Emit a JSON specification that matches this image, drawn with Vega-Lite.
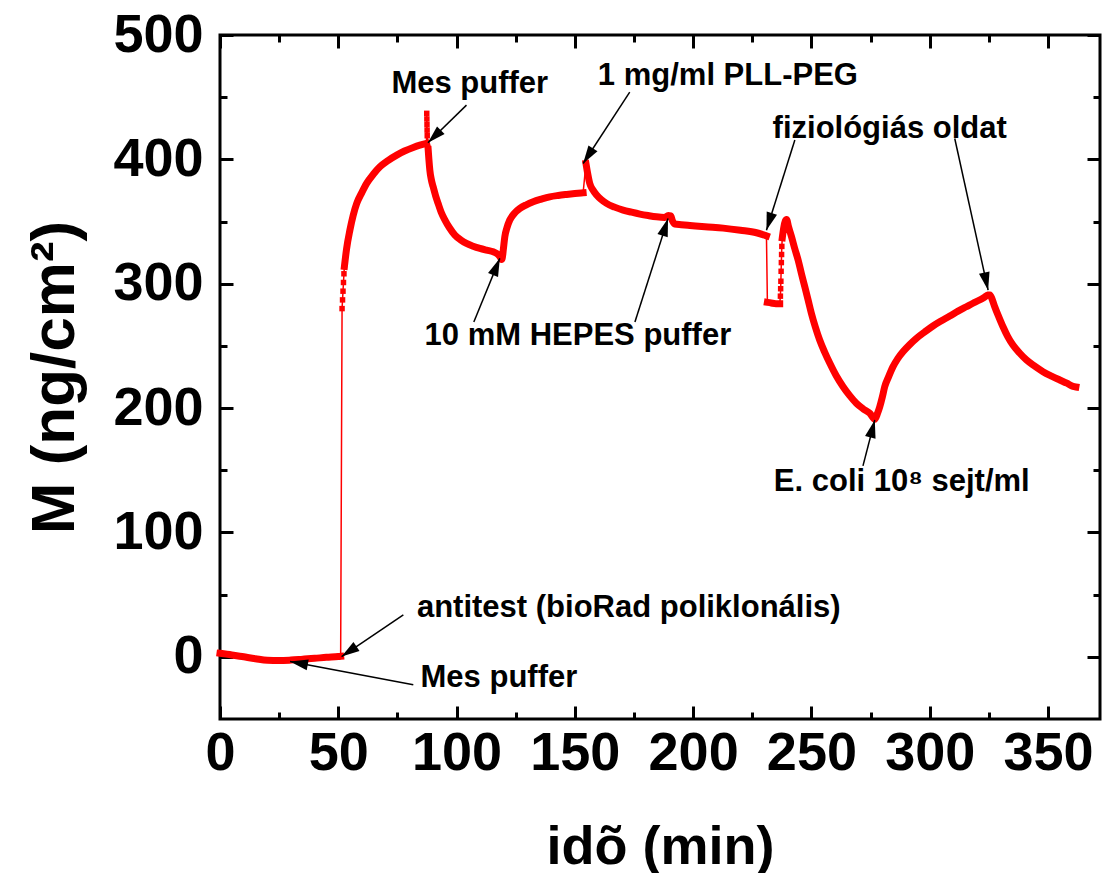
{
  "$schema": "https://vega.github.io/schema/vega-lite/v6.json",
  "width": 880,
  "height": 684,
  "autosize": "none",
  "padding": {"left": 220, "top": 35, "right": 2, "bottom": 154},
  "background": "white",
  "config": {
    "view": {"stroke": "black", "strokeWidth": 3},
    "axis": {
      "grid": false,
      "domain": false,
      "tickColor": "black",
      "tickWidth": 3,
      "labelFont": "Liberation Sans",
      "labelFontWeight": "bold",
      "labelFontSize": 54,
      "labelColor": "black",
      "labelFlush": false,
      "labelOverlap": false,
      "titleFont": "Liberation Sans",
      "titleFontWeight": "bold",
      "titleColor": "black"
    }
  },
  "datasets": {
    "curve": [
      {"t": 0, "M": 2.8, "seg": "a"}, {"t": 5, "M": 1.5, "seg": "a"}, {"t": 10, "M": 0, "seg": "a"}, {"t": 15, "M": -1.5, "seg": "a"}, {"t": 20, "M": -2.8, "seg": "a"}, {"t": 25, "M": -3, "seg": "a"}, {"t": 30, "M": -2.6, "seg": "a"}, {"t": 35, "M": -1.9, "seg": "a"}, {"t": 40, "M": -1.2, "seg": "a"}, {"t": 45, "M": -0.4, "seg": "a"}, {"t": 50, "M": 0.2, "seg": "a"}, {"t": 51, "M": 0.4, "seg": "a"},
      {"t": 51.6, "M": 280, "seg": "dot"}, {"t": 51.8, "M": 287, "seg": "dot"}, {"t": 52.0, "M": 294, "seg": "dot"}, {"t": 52.2, "M": 301, "seg": "dot"}, {"t": 52.4, "M": 308, "seg": "dot"},
      {"t": 52.6, "M": 314, "seg": "b"}, {"t": 53.5, "M": 328, "seg": "b"}, {"t": 54.9, "M": 343, "seg": "b"}, {"t": 56.3, "M": 355, "seg": "b"}, {"t": 57.8, "M": 364.6, "seg": "b"}, {"t": 60, "M": 373.5, "seg": "b"}, {"t": 62, "M": 380.7, "seg": "b"}, {"t": 64.8, "M": 388, "seg": "b"}, {"t": 67.6, "M": 394, "seg": "b"}, {"t": 71, "M": 399, "seg": "b"}, {"t": 74.7, "M": 403.4, "seg": "b"}, {"t": 78, "M": 406.7, "seg": "b"}, {"t": 81.7, "M": 409.6, "seg": "b"}, {"t": 84.5, "M": 411.4, "seg": "b"}, {"t": 87.3, "M": 412.8, "seg": "b"},
      {"t": 87.4, "M": 437, "seg": "dot"}, {"t": 87.45, "M": 432.5, "seg": "dot"}, {"t": 87.5, "M": 428, "seg": "dot"}, {"t": 87.55, "M": 423.5, "seg": "dot"}, {"t": 87.6, "M": 419, "seg": "dot"},
      {"t": 88.0, "M": 408, "seg": "c"}, {"t": 88.3, "M": 400, "seg": "c"}, {"t": 88.7, "M": 391.4, "seg": "c"}, {"t": 89.3, "M": 384, "seg": "c"}, {"t": 90.1, "M": 378, "seg": "c"}, {"t": 91.1, "M": 371, "seg": "c"}, {"t": 92.2, "M": 364.6, "seg": "c"}, {"t": 93.5, "M": 357.5, "seg": "c"}, {"t": 95.1, "M": 351.2, "seg": "c"}, {"t": 97, "M": 345, "seg": "c"}, {"t": 99.3, "M": 339.1, "seg": "c"}, {"t": 101.7, "M": 335.3, "seg": "c"}, {"t": 104.2, "M": 332.4, "seg": "c"}, {"t": 107, "M": 330.2, "seg": "c"}, {"t": 109.9, "M": 328.4, "seg": "c"}, {"t": 112.7, "M": 327, "seg": "c"}, {"t": 115.5, "M": 325.7, "seg": "c"}, {"t": 117.6, "M": 323.5, "seg": "c"}, {"t": 118.6, "M": 321, "seg": "c"}, {"t": 119.0, "M": 319.5, "seg": "c"},
      {"t": 119.3, "M": 320.5, "seg": "c"}, {"t": 119.8, "M": 328, "seg": "c"}, {"t": 120.4, "M": 337.8, "seg": "c"}, {"t": 121.3, "M": 345, "seg": "c"}, {"t": 122.5, "M": 351.2, "seg": "c"}, {"t": 124.4, "M": 356.5, "seg": "c"}, {"t": 126.8, "M": 360.6, "seg": "c"}, {"t": 129.5, "M": 363.5, "seg": "c"}, {"t": 132.4, "M": 365.9, "seg": "c"}, {"t": 135.8, "M": 368, "seg": "c"}, {"t": 139.4, "M": 369.9, "seg": "c"}, {"t": 143, "M": 371, "seg": "c"}, {"t": 146.5, "M": 371.8, "seg": "c"}, {"t": 150, "M": 372.5, "seg": "c"}, {"t": 153.5, "M": 373.1, "seg": "c"},
      {"t": 154.7, "M": 396.7, "seg": "e"}, {"t": 155.3, "M": 390, "seg": "e"}, {"t": 156.3, "M": 380.7, "seg": "e"}, {"t": 157.6, "M": 375.5, "seg": "e"}, {"t": 159.2, "M": 371.3, "seg": "e"}, {"t": 161.2, "M": 367.6, "seg": "e"}, {"t": 163.4, "M": 364.6, "seg": "e"}, {"t": 166.8, "M": 361.6, "seg": "e"}, {"t": 170.4, "M": 359.2, "seg": "e"}, {"t": 174, "M": 357.5, "seg": "e"}, {"t": 177.5, "M": 356, "seg": "e"}, {"t": 181, "M": 354.8, "seg": "e"}, {"t": 184.5, "M": 353.8, "seg": "e"}, {"t": 188, "M": 353.3, "seg": "e"}, {"t": 189.5, "M": 354.8, "seg": "e"}, {"t": 190.5, "M": 354.5, "seg": "e"}, {"t": 191.3, "M": 350.5, "seg": "e"}, {"t": 192.3, "M": 348, "seg": "e"}, {"t": 195, "M": 347.5, "seg": "e"}, {"t": 198.6, "M": 346.9, "seg": "e"}, {"t": 205, "M": 345.8, "seg": "e"}, {"t": 212.7, "M": 344.7, "seg": "e"}, {"t": 220, "M": 343, "seg": "e"}, {"t": 226.8, "M": 341, "seg": "e"}, {"t": 231, "M": 338.5, "seg": "e"},
      {"t": 231.4, "M": 285, "seg": "g"}, {"t": 233, "M": 284.5, "seg": "g"}, {"t": 235, "M": 284, "seg": "g"}, {"t": 236.6, "M": 284, "seg": "g"},
      {"t": 236.9, "M": 290, "seg": "dot"}, {"t": 237.0, "M": 296, "seg": "dot"}, {"t": 237.1, "M": 302, "seg": "dot"}, {"t": 237.2, "M": 310, "seg": "dot"}, {"t": 237.3, "M": 317, "seg": "dot"}, {"t": 237.4, "M": 323.5, "seg": "dot"}, {"t": 237.5, "M": 330, "seg": "dot"},
      {"t": 237.7, "M": 337, "seg": "h"}, {"t": 238.3, "M": 345, "seg": "h"}, {"t": 239.0, "M": 350.5, "seg": "h"}, {"t": 239.5, "M": 351.7, "seg": "h"}, {"t": 240.3, "M": 346, "seg": "h"}, {"t": 241.6, "M": 337.8, "seg": "h"}, {"t": 243, "M": 328, "seg": "h"}, {"t": 244.4, "M": 319, "seg": "h"}, {"t": 245.8, "M": 308, "seg": "h"}, {"t": 247.2, "M": 297.6, "seg": "h"}, {"t": 248.6, "M": 287, "seg": "h"}, {"t": 250, "M": 276.2, "seg": "h"}, {"t": 251.7, "M": 265, "seg": "h"}, {"t": 253.5, "M": 254.7, "seg": "h"}, {"t": 255.6, "M": 245, "seg": "h"}, {"t": 257.8, "M": 236, "seg": "h"}, {"t": 260.5, "M": 226, "seg": "h"}, {"t": 263.4, "M": 217.2, "seg": "h"}, {"t": 266.2, "M": 210, "seg": "h"}, {"t": 269, "M": 203.9, "seg": "h"}, {"t": 271.8, "M": 199.5, "seg": "h"}, {"t": 274.7, "M": 195.8, "seg": "h"}, {"t": 276.8, "M": 191, "seg": "h"},
      {"t": 278.0, "M": 196, "seg": "h"}, {"t": 278.9, "M": 201.1, "seg": "h"}, {"t": 280, "M": 209, "seg": "h"}, {"t": 281, "M": 217.2, "seg": "h"}, {"t": 282.7, "M": 225.5, "seg": "h"}, {"t": 284.5, "M": 233.3, "seg": "h"}, {"t": 286.5, "M": 239.8, "seg": "h"}, {"t": 288.7, "M": 245.3, "seg": "h"}, {"t": 291.5, "M": 251, "seg": "h"}, {"t": 294.4, "M": 256.1, "seg": "h"}, {"t": 297.9, "M": 261.2, "seg": "h"}, {"t": 301.4, "M": 266, "seg": "h"}, {"t": 305, "M": 270.2, "seg": "h"}, {"t": 308.5, "M": 274, "seg": "h"}, {"t": 312, "M": 278, "seg": "h"}, {"t": 315.5, "M": 281.5, "seg": "h"}, {"t": 318.3, "M": 284.3, "seg": "h"}, {"t": 321.1, "M": 286.9, "seg": "h"}, {"t": 323, "M": 289, "seg": "h"}, {"t": 324.6, "M": 290.9, "seg": "h"}, {"t": 325.5, "M": 291, "seg": "h"},
      {"t": 326.5, "M": 287, "seg": "h"}, {"t": 327.5, "M": 281.5, "seg": "h"}, {"t": 329.3, "M": 273, "seg": "h"}, {"t": 331, "M": 265.4, "seg": "h"}, {"t": 333, "M": 257.5, "seg": "h"}, {"t": 335.2, "M": 250.7, "seg": "h"}, {"t": 338, "M": 244.3, "seg": "h"}, {"t": 340.9, "M": 238.7, "seg": "h"}, {"t": 344.4, "M": 233.7, "seg": "h"}, {"t": 347.9, "M": 229.3, "seg": "h"}, {"t": 351.5, "M": 225.7, "seg": "h"}, {"t": 355, "M": 222.6, "seg": "h"}, {"t": 358, "M": 220, "seg": "h"}, {"t": 360.6, "M": 217.5, "seg": "h"}, {"t": 361.8, "M": 217, "seg": "h"}
    ],
    "arrows": [
      {"t1": 104.2, "M1": 443.6, "t2": 87.9, "M2": 413.3},
      {"t1": 173.2, "M1": 454, "t2": 153.5, "M2": 396.7},
      {"t1": 243, "M1": 415.5, "t2": 231, "M2": 343},
      {"t1": 310.6, "M1": 416.8, "t2": 324.7, "M2": 294.8},
      {"t1": 107.3, "M1": 269.2, "t2": 118.3, "M2": 320.4},
      {"t1": 175.4, "M1": 269.2, "t2": 189.4, "M2": 352.5},
      {"t1": 271.8, "M1": 153.5, "t2": 276.8, "M2": 190.4},
      {"t1": 77.5, "M1": 33.8, "t2": 51.4, "M2": 0.2},
      {"t1": 81.7, "M1": -22.5, "t2": 29.6, "M2": -3.8}
    ],
    "labels": [
      {"t": 105.6, "M": 453.2, "text": "Mes puffer"},
      {"t": 214.7, "M": 459.6, "text": "1 mg/ml PLL-PEG"},
      {"t": 283.1, "M": 417, "text": "fiziológiás oldat"},
      {"t": 151.3, "M": 250.7, "text": "10 mM HEPES puffer"},
      {"t": 288.2, "M": 133, "text": "E. coli 10⁸ sejt/ml"},
      {"t": 172.8, "M": 32.1, "text": "antitest (bioRad poliklonális)"},
      {"t": 117.9, "M": -24, "text": "Mes puffer"}
    ]
  },
  "layer": [
    {
      "data": {"name": "curve"},
      "mark": {"type": "line", "color": "#ff0000", "strokeWidth": 1.5},
      "encoding": {
        "x": {"field": "t", "type": "quantitative", "scale": {"domain": [0, 372], "nice": false, "zero": false},
          "axis": {"orient": "bottom", "values": [0, 50, 100, 150, 200, 250, 300, 350], "tickSize": -13, "labelPadding": 20, "title": "idõ (min)", "titleFontSize": 54, "titlePadding": 40}},
        "y": {"field": "M", "type": "quantitative", "scale": {"domain": [-50, 500], "nice": false, "zero": false},
          "axis": {"orient": "left", "values": [0, 100, 200, 300, 400, 500], "tickSize": -13, "labelPadding": 30, "title": "M (ng/cm²)", "titleFontSize": 62, "titlePadding": 26}}
      }
    },
    {
      "data": {"name": "curve"},
      "transform": [{"filter": "datum.seg !== 'dot'"}],
      "mark": {"type": "line", "color": "#ff0000", "strokeWidth": 7, "interpolate": "monotone", "strokeCap": "square", "strokeJoin": "round"},
      "encoding": {
        "x": {"field": "t", "type": "quantitative", "scale": {"domain": [0, 372], "nice": false, "zero": false},
          "axis": {"orient": "bottom", "values": [25, 75, 125, 175, 225, 275, 325], "tickSize": -7, "labels": false, "title": null}},
        "y": {"field": "M", "type": "quantitative", "scale": {"domain": [-50, 500], "nice": false, "zero": false},
          "axis": {"orient": "left", "values": [50, 150, 250, 350, 450], "tickSize": -7, "labels": false, "title": null}},
        "detail": {"field": "seg"}
      }
    },
    {
      "data": {"name": "curve"},
      "transform": [{"filter": "datum.seg === 'dot'"}],
      "mark": {"type": "point", "shape": "square", "filled": true, "color": "#ff0000", "size": 30, "opacity": 1},
      "encoding": {
        "x": {"field": "t", "type": "quantitative", "scale": {"domain": [0, 372], "nice": false, "zero": false},
          "axis": {"orient": "top", "values": [0, 50, 100, 150, 200, 250, 300, 350], "tickSize": -13, "labels": false, "title": null}},
        "y": {"field": "M", "type": "quantitative", "scale": {"domain": [-50, 500], "nice": false, "zero": false},
          "axis": {"orient": "right", "values": [0, 100, 200, 300, 400, 500], "tickSize": -13, "labels": false, "title": null}}
      }
    },
    {
      "data": {"name": "arrows"},
      "mark": {"type": "rule", "color": "black", "strokeWidth": 1.5},
      "encoding": {
        "x": {"field": "t1", "type": "quantitative", "scale": {"domain": [0, 372], "nice": false, "zero": false},
          "axis": {"orient": "top", "values": [25, 75, 125, 175, 225, 275, 325], "tickSize": -7, "labels": false, "title": null}},
        "y": {"field": "M1", "type": "quantitative", "scale": {"domain": [-50, 500], "nice": false, "zero": false},
          "axis": {"orient": "right", "values": [50, 150, 250, 350, 450], "tickSize": -7, "labels": false, "title": null}},
        "x2": {"field": "t2"},
        "y2": {"field": "M2"}
      }
    },
    {
      "data": {"name": "arrows"},
      "transform": [{"calculate": "atan2((datum.t2 - datum.t1) * 880 / 372, (datum.M2 - datum.M1) * 684 / 550) * 180 / PI", "as": "ang"}],
      "mark": {"type": "point", "shape": "M0,0L-0.3,1L0.3,1Z", "filled": true, "color": "black", "size": 1296, "opacity": 1, "strokeWidth": 0},
      "encoding": {
        "x": {"field": "t2", "type": "quantitative", "axis": null},
        "y": {"field": "M2", "type": "quantitative", "axis": null},
        "angle": {"field": "ang", "type": "quantitative", "scale": null}
      }
    },
    {
      "data": {"name": "labels"},
      "mark": {"type": "text", "font": "Liberation Sans", "fontWeight": "bold", "fontSize": 31, "align": "center", "baseline": "alphabetic", "color": "black"},
      "encoding": {
        "x": {"field": "t", "type": "quantitative", "axis": null},
        "y": {"field": "M", "type": "quantitative", "axis": null},
        "text": {"field": "text"}
      }
    }
  ],
  "resolve": {"axis": {"x": "independent", "y": "independent"}}
}
